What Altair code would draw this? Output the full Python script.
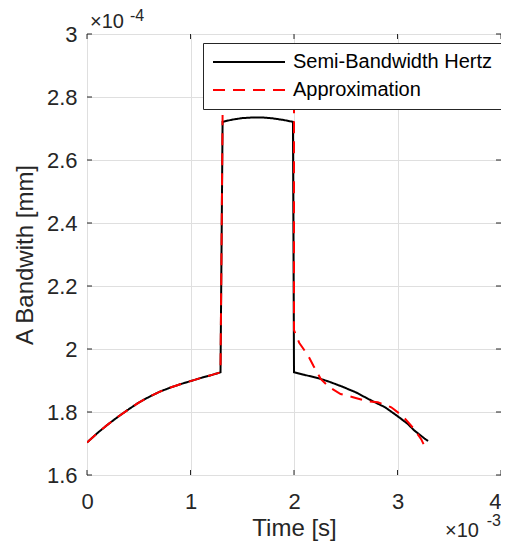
import altair as alt
import pandas as pd

# ---- data (x in 1e-3 s, y in 1e-4 mm) ----
black_t = [0.0, 0.1, 0.2, 0.3, 0.4, 0.5, 0.6, 0.7, 0.8, 0.9, 1.0, 1.1, 1.2, 1.29,
           1.31, 1.4, 1.5, 1.6, 1.7, 1.8, 1.9, 1.99,
           2.0, 2.1, 2.24, 2.35, 2.47, 2.6, 2.72, 2.88, 3.0, 3.1, 3.16, 3.26, 3.295]
black_w = [1.703, 1.733, 1.760, 1.785, 1.808, 1.830, 1.848, 1.864, 1.877, 1.888, 1.898, 1.908, 1.917, 1.926,
           2.721, 2.728, 2.733, 2.735, 2.735, 2.732, 2.727, 2.721,
           1.926, 1.918, 1.907, 1.895, 1.880, 1.862, 1.841, 1.815, 1.787, 1.762, 1.742, 1.716, 1.708]

red_t = [0.0, 0.1, 0.2, 0.3, 0.4, 0.5, 0.6, 0.7, 0.8, 0.9, 1.0, 1.1, 1.2, 1.29, 1.31,
         2.0, 2.0, 2.05, 2.14, 2.19, 2.26, 2.34, 2.45, 2.57, 2.71, 2.81, 2.94, 3.05, 3.16, 3.23, 3.26, 3.28]
red_w = [1.703, 1.733, 1.760, 1.785, 1.808, 1.830, 1.848, 1.864, 1.877, 1.888, 1.898, 1.908, 1.917, 1.926, 2.743,
         2.85, 2.06, 2.02, 1.977, 1.945, 1.904, 1.879, 1.857, 1.847, 1.834, 1.831, 1.815, 1.787, 1.746, 1.713, 1.692, 1.68]
red_seg = [0] * 15 + [1] * 17

series_names = ["Semi-Bandwidth Hertz", "Approximation"]
series_colors = ["#000000", "#ff0000"]
series_dash = [[1, 0], [12, 8]]

x_ticks = [0, 1, 2, 3, 4]
y_ticks = [1.6, 1.8, 2.0, 2.2, 2.4, 2.6, 2.8, 3.0]

W, H = 414, 441
TXT = "#262626"

df_black = pd.DataFrame({"t": black_t, "w": black_w, "series": series_names[0],
                         "seg": 0, "i": range(len(black_t))})
df_red = pd.DataFrame({"t": red_t, "w": red_w, "series": series_names[1],
                       "seg": red_seg, "i": range(len(red_t))})

xscale = alt.Scale(domain=[0, 4], nice=False, zero=False)
yscale = alt.Scale(domain=[1.6, 3.0], nice=False, zero=False)

# custom line symbol: unit path scaled by sqrt(size)/2 -> 9px units, 72px long line
color = alt.Color("series:N", scale=alt.Scale(domain=series_names, range=series_colors),
                  legend=alt.Legend(title=None, orient="none", legendX=116, legendY=9,
                                    fillColor="white", strokeColor=TXT, padding=9,
                                    rowPadding=8, labelFontSize=20, labelColor="#000000",
                                    labelFont="Liberation Sans", labelOffset=61, labelLimit=400,
                                    symbolType="M-1,0H7", symbolSize=324, symbolStrokeWidth=2))
dash = alt.StrokeDash("series:N", scale=alt.Scale(domain=series_names, range=series_dash),
                      legend=None)

xaxis = alt.Axis(values=x_ticks, format="d", title="Time [s]", labelPadding=16,
                 titlePadding=4, grid=True, ticks=False, domain=False, labelFlush=False,
                 labelAlign=alt.ExprRef("datum.value == 4 ? 'right' : 'center'"))
yaxis = alt.Axis(values=y_ticks, format="~g", title="A Bandwith [mm]", labelPadding=10,
                 titlePadding=9, grid=True, ticks=False, domain=False, labelFlush=False)

black = alt.Chart(df_black).mark_line(strokeWidth=2, clip=True).encode(
    x=alt.X("t:Q", scale=xscale, axis=xaxis),
    y=alt.Y("w:Q", scale=yscale, axis=yaxis),
    color=color, strokeDash=dash, detail="seg:N", order="i:Q")

red = alt.Chart(df_red).mark_line(strokeWidth=2, clip=True).encode(
    x=alt.X("t:Q", scale=xscale),
    y=alt.Y("w:Q", scale=yscale),
    color=color, strokeDash=dash, detail="seg:N", order="i:Q")

# inward ticks (MATLAB style)
df_xt = pd.DataFrame({"t": x_ticks})
df_yt = pd.DataFrame({"w": y_ticks})
tick_style = dict(color=TXT, strokeWidth=1)
xt_bottom = alt.Chart(df_xt).mark_rule(**tick_style).encode(
    x=alt.X("t:Q", scale=xscale), y=alt.value(H), y2=alt.value(H - 5))
xt_top = alt.Chart(df_xt).mark_rule(**tick_style).encode(
    x=alt.X("t:Q", scale=xscale), y=alt.value(0), y2=alt.value(5))
yt_left = alt.Chart(df_yt).mark_rule(**tick_style).encode(
    y=alt.Y("w:Q", scale=yscale), x=alt.value(0), x2=alt.value(5))
yt_right = alt.Chart(df_yt).mark_rule(**tick_style).encode(
    y=alt.Y("w:Q", scale=yscale), x=alt.value(W), x2=alt.value(W - 5))

one = pd.DataFrame({"a": [0]})
def label(txt, x, y, size, align="left"):
    return alt.Chart(one).mark_text(align=align, baseline="alphabetic", fontSize=size,
                                    font="Liberation Sans", color=TXT).encode(
        x=alt.value(x), y=alt.value(y), text=alt.value(txt))

exp_y1 = label("×10", 3, -6, 20)
exp_y2 = label("-4", 43, -13, 16)
exp_x1 = label("×10", W - 22, 503, 20, "right")
exp_x2 = label("-3", W, 492, 16, "right")

chart = alt.layer(black, red, xt_bottom, xt_top, yt_left, yt_right,
                  exp_y1, exp_y2, exp_x1, exp_x2).properties(
    width=W, height=H,
    autosize=alt.AutoSizeParams(type="none"),
    padding={"left": 79, "top": 26, "right": 0, "bottom": 66},
).configure(font="Liberation Sans").configure_view(
    stroke=TXT, strokeWidth=1
).configure_axis(
    labelFont="Liberation Sans", titleFont="Liberation Sans",
    labelFontSize=22, titleFontSize=24, titleFontWeight="normal",
    labelColor=TXT, titleColor=TXT, gridColor="#dfdfdf", gridWidth=1
)

chart.save("out.html", embed_options={"renderer": "svg", "actions": False})
